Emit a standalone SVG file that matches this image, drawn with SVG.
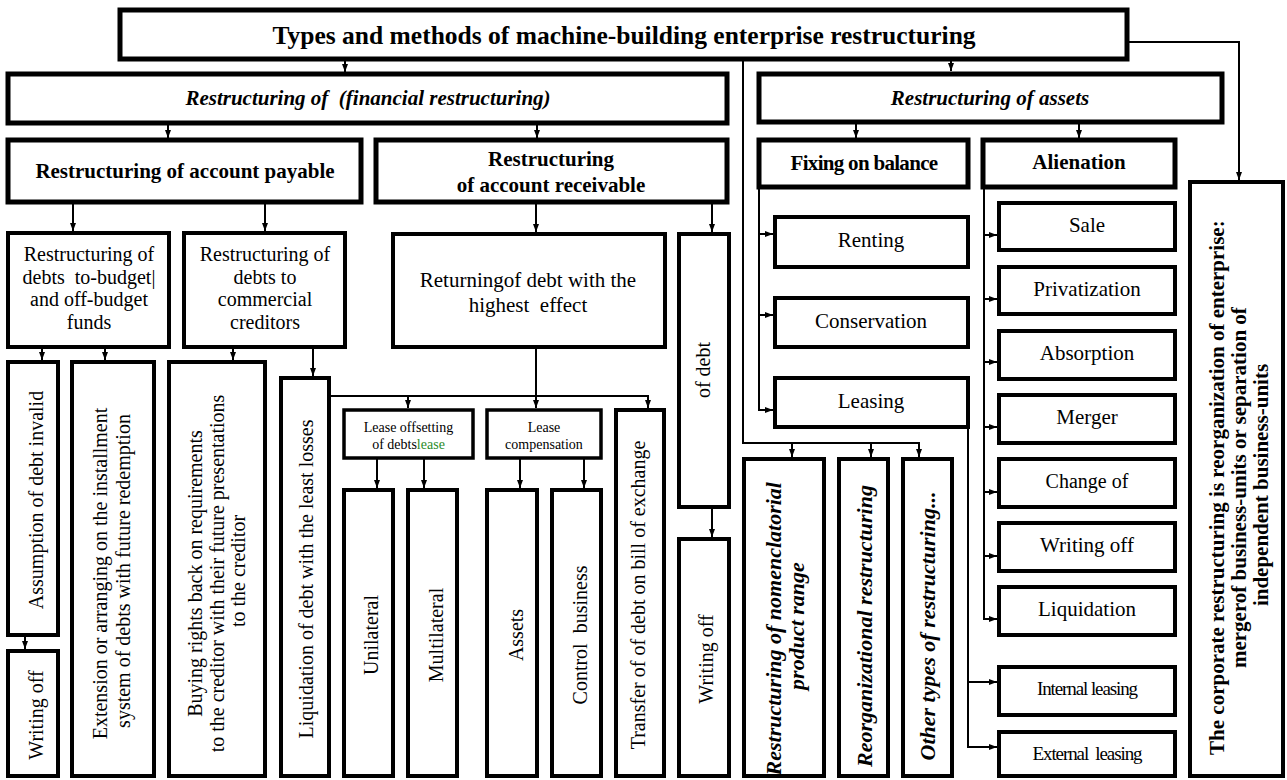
<svg xmlns="http://www.w3.org/2000/svg" width="1287" height="780" viewBox="0 0 1287 780" font-family="'Liberation Serif', 'Times New Roman', 'DejaVu Serif', serif">
  <style>
    text { font-family: 'Liberation Serif', 'Times New Roman', 'DejaVu Serif', serif; fill: #000; text-anchor: middle; }
    .box { fill: #fff; stroke: #000; stroke-width: 4; }
    .thick { stroke-width: 5; }
    .thin { stroke-width: 3.5; }
    .wire { fill: none; stroke: #000; stroke-width: 2; }
    .arr { marker-end: url(#ah); }
    .h24 { font-size: 25.5px; font-weight: bold; }
    .hb { font-size: 21px; font-weight: bold; }
    .hi { font-size: 21px; font-weight: bold; font-style: italic; }
    .vi { font-size: 22px; font-weight: bold; font-style: italic; }
    .r21 { font-size: 21px; }
    .r20 { font-size: 20px; }
    .r14 { font-size: 14px; }
    .cond { font-size: 19px; letter-spacing: -1.1px; }
    .green { fill: #2a8c2a; }
  </style>
  <defs>
    <marker id="ah" viewBox="0 0 8 6" refX="8" refY="3" markerWidth="8" markerHeight="6" markerUnits="userSpaceOnUse" orient="auto">
      <path d="M0,0 L8,3 L0,6 z" fill="#000"/>
    </marker>
  </defs>

  <!-- connectors -->
  <g id="connectors">
    <path class="wire arr" d="M345,59 V72"/>
    <path class="wire arr" d="M743,59 V443 H919 V457"/>
    <path class="wire arr" d="M792,443 V457"/>
    <path class="wire arr" d="M871,443 V457"/>
    <path class="wire arr" d="M951,59 V71"/>
    <path class="wire arr" d="M1127,42 H1239 V180"/>
    <path class="wire arr" d="M168,123 V138"/>
    <path class="wire arr" d="M537,123 V138"/>
    <path class="wire arr" d="M856,122 V138"/>
    <path class="wire arr" d="M1079,122 V138"/>
    <path class="wire arr" d="M73,202 V231"/>
    <path class="wire arr" d="M265,202 V231"/>
    <path class="wire arr" d="M536,202 V232"/>
    <path class="wire arr" d="M712,202 V232"/>
    <path class="wire arr" d="M42,347 V360"/>
    <path class="wire arr" d="M105,347 V360"/>
    <path class="wire arr" d="M233,347 V360"/>
    <path class="wire arr" d="M313,347 V376"/>
    <path class="wire arr" d="M25,635 V649"/>
    <path class="wire arr" d="M329,396 H648 V408"/>
    <path class="wire arr" d="M408,396 V408"/>
    <path class="wire arr" d="M536,347 V408"/>
    <path class="wire arr" d="M377,458 V488"/>
    <path class="wire arr" d="M424,458 V488"/>
    <path class="wire arr" d="M520,458 V488"/>
    <path class="wire arr" d="M584,458 V488"/>
    <path class="wire arr" d="M712,507 V537"/>
    <path class="wire arr" d="M759,187 V410 H773"/>
    <path class="wire arr" d="M759,234 H773"/>
    <path class="wire arr" d="M759,315 H773"/>
    <path class="wire arr" d="M984,187 V619 H997"/>
    <path class="wire arr" d="M984,235 H997"/>
    <path class="wire arr" d="M984,299 H997"/>
    <path class="wire arr" d="M984,362 H997"/>
    <path class="wire arr" d="M984,427 H997"/>
    <path class="wire arr" d="M984,492 H997"/>
    <path class="wire arr" d="M984,556 H997"/>
    <path class="wire arr" d="M968,427 V747 H997"/>
    <path class="wire arr" d="M968,682 H997"/>
  </g>

  <!-- top level -->
  <g id="n-title">
    <rect class="box thick" x="120" y="10" width="1007" height="49"/>
    <text class="h24" x="624" y="44">Types and methods of machine-building enterprise restructuring</text>
  </g>
  <g id="n-financial">
    <rect class="box thick" x="8" y="74" width="719" height="49"/>
    <text class="hi" x="368" y="105" xml:space="preserve">Restructuring of  (financial restructuring)</text>
  </g>
  <g id="n-assets">
    <rect class="box thick" x="759" y="74" width="463" height="48"/>
    <text class="hi" x="990" y="105">Restructuring of assets</text>
  </g>
  <g id="n-corporate">
    <rect class="box" x="1190" y="182" width="93" height="594"/>
    <text class="hb" transform="translate(1224,485) rotate(-90)">
      <tspan x="0" y="0">The corporate restructuring is reorganization of enterprise:</tspan>
      <tspan x="0" dy="22">mergerof business-units or separation of</tspan>
      <tspan x="0" dy="22">independent business-units</tspan>
    </text>
  </g>

  <!-- financial restructuring -->
  <g id="n-payable">
    <rect class="box thick" x="8" y="140" width="353" height="62"/>
    <text class="hb" x="185" y="178">Restructuring of account payable</text>
  </g>
  <g id="n-receivable">
    <rect class="box thick" x="376" y="140" width="351" height="62"/>
    <text class="hb" x="551" y="166">Restructuring</text>
    <text class="hb" x="551" y="192">of account receivable</text>
  </g>
  <g id="n-debts-budget">
    <rect class="box" x="8" y="233" width="161" height="114"/>
    <text class="r20" x="89" xml:space="preserve"><tspan x="89" y="261">Restructuring of</tspan><tspan x="89" y="283.5">debts  to-budget|</tspan><tspan x="89" y="306">and off-budget</tspan><tspan x="89" y="328.5">funds</tspan></text>
  </g>
  <g id="n-debts-commercial">
    <rect class="box" x="184" y="233" width="161" height="114"/>
    <text class="r20" x="265"><tspan x="265" y="261">Restructuring of</tspan><tspan x="265" y="283.5">debts to</tspan><tspan x="265" y="306">commercial</tspan><tspan x="265" y="328.5">creditors</tspan></text>
  </g>
  <g id="n-assumption">
    <rect class="box" x="8" y="362" width="50" height="273"/>
    <text class="r20" transform="translate(43,500) rotate(-90)">Assumption of debt invalid</text>
  </g>
  <g id="n-writing-off-a">
    <rect class="box" x="8" y="651" width="50" height="125"/>
    <text class="r20" transform="translate(43,715) rotate(-90)">Writing off</text>
  </g>
  <g id="n-extension">
    <rect class="box" x="72" y="362" width="82" height="414"/>
    <text class="r20" transform="translate(107,571) rotate(-90)">
      <tspan x="0" y="0">Extension or arranging on the installment</tspan>
      <tspan x="0" dy="23">system of debts with future redemption</tspan>
    </text>
  </g>
  <g id="n-buying">
    <rect class="box" x="169" y="362" width="96" height="414"/>
    <text class="r20" transform="translate(202,571) rotate(-90)">
      <tspan x="0" y="0">Buying rights back on requirements</tspan>
      <tspan x="0" dy="21.5">to the creditor with their future presentations</tspan>
      <tspan x="0" dy="21.5">to the creditor</tspan>
    </text>
  </g>
  <g id="n-liquidation-debt">
    <rect class="box" x="281" y="378" width="48" height="398"/>
    <text class="r20" transform="translate(313,579) rotate(-90)">Liquidation of debt with the least losses</text>
  </g>

  <!-- account receivable -->
  <g id="n-returning">
    <rect class="box" x="393" y="234" width="272" height="113"/>
    <text class="r21" x="528" y="287">Returningof debt with the</text>
    <text class="r21" x="528" y="312" xml:space="preserve">highest  effect</text>
  </g>
  <g id="n-of-debt">
    <rect class="box" x="679" y="234" width="50" height="273"/>
    <text class="r20" transform="translate(710,370) rotate(-90)">of debt</text>
  </g>
  <g id="n-writing-off-b">
    <rect class="box" x="679" y="539" width="50" height="237"/>
    <text class="r20" transform="translate(713,659) rotate(-90)">Writing off</text>
  </g>
  <g id="n-lease-offsetting">
    <rect class="box thin" x="344" y="410" width="129" height="48"/>
    <text class="r14" x="408.5" y="432">Lease offsetting</text>
    <text class="r14" x="408.5" y="449">of debts<tspan class="green">lease</tspan></text>
  </g>
  <g id="n-lease-compensation">
    <rect class="box thin" x="487" y="410" width="114" height="48"/>
    <text class="r14" x="544" y="432">Lease</text>
    <text class="r14" x="544" y="449">compensation</text>
  </g>
  <g id="n-transfer">
    <rect class="box" x="616" y="410" width="48" height="366"/>
    <text class="r20" transform="translate(645,595) rotate(-90)">Transfer of of debt on bill of exchange</text>
  </g>
  <g id="n-unilateral">
    <rect class="box" x="344" y="490" width="49" height="286"/>
    <text class="r20" transform="translate(378,635) rotate(-90)">Unilateral</text>
  </g>
  <g id="n-multilateral">
    <rect class="box" x="408" y="490" width="49" height="286"/>
    <text class="r20" transform="translate(443,635) rotate(-90)">Multilateral</text>
  </g>
  <g id="n-assets-comp">
    <rect class="box" x="487" y="490" width="50" height="286"/>
    <text class="r20" transform="translate(523,635) rotate(-90)">Assets</text>
  </g>
  <g id="n-control-business">
    <rect class="box" x="552" y="490" width="49" height="286"/>
    <text class="r20" transform="translate(587,635) rotate(-90)" xml:space="preserve">Control  business</text>
  </g>

  <!-- other kinds of restructuring -->
  <g id="n-nomenclature">
    <rect class="box" x="744" y="459" width="80" height="317"/>
    <text class="vi" transform="translate(781,626) rotate(-90)">
      <tspan x="0" y="0">Restructuring of nomenclatorial</tspan>
      <tspan x="0" dy="23">product range</tspan>
    </text>
  </g>
  <g id="n-reorganizational">
    <rect class="box" x="839" y="459" width="49" height="317"/>
    <text class="vi" transform="translate(872,626) rotate(-90)">Reorganizational restructuring</text>
  </g>
  <g id="n-other-types">
    <rect class="box" x="903" y="459" width="49" height="317"/>
    <text class="vi" transform="translate(935,626) rotate(-90)">Other types of restructuring...</text>
  </g>

  <!-- asset restructuring -->
  <g id="n-fixing">
    <rect class="box thick" x="759" y="140" width="209" height="47"/>
    <text class="hb" x="864" y="170" style="letter-spacing:-0.7px">Fixing on balance</text>
  </g>
  <g id="n-alienation">
    <rect class="box thick" x="983" y="140" width="192" height="47"/>
    <text class="hb" x="1079" y="169">Alienation</text>
  </g>
  <g id="n-renting">
    <rect class="box" x="775" y="217" width="193" height="50"/>
    <text class="r21" x="871" y="247">Renting</text>
  </g>
  <g id="n-conservation">
    <rect class="box" x="775" y="298" width="193" height="49"/>
    <text class="r21" x="871" y="328">Conservation</text>
  </g>
  <g id="n-leasing">
    <rect class="box" x="775" y="378" width="193" height="49"/>
    <text class="r21" x="871" y="408">Leasing</text>
  </g>
  <g id="n-internal-leasing">
    <rect class="box" x="999" y="667" width="176" height="48"/>
    <text class="cond" x="1087" y="695">Internal leasing</text>
  </g>
  <g id="n-external-leasing">
    <rect class="box" x="999" y="732" width="176" height="44"/>
    <text class="cond" x="1087" y="760" xml:space="preserve">External  leasing</text>
  </g>
  <g id="n-sale">
    <rect class="box" x="999" y="203" width="176" height="47"/>
    <text class="r21" x="1087" y="232">Sale</text>
  </g>
  <g id="n-privatization">
    <rect class="box" x="999" y="267" width="176" height="47"/>
    <text class="r21" x="1087" y="296">Privatization</text>
  </g>
  <g id="n-absorption">
    <rect class="box" x="999" y="331" width="176" height="48"/>
    <text class="r21" x="1087" y="360">Absorption</text>
  </g>
  <g id="n-merger">
    <rect class="box" x="999" y="395" width="176" height="48"/>
    <text class="r21" x="1087" y="424">Merger</text>
  </g>
  <g id="n-change">
    <rect class="box" x="999" y="459" width="176" height="48"/>
    <text class="r20" x="1087" y="488">Change of</text>
  </g>
  <g id="n-writing-off-c">
    <rect class="box" x="999" y="523" width="176" height="48"/>
    <text class="r21" x="1087" y="552">Writing off</text>
  </g>
  <g id="n-liquidation">
    <rect class="box" x="999" y="587" width="176" height="48"/>
    <text class="r21" x="1087" y="616">Liquidation</text>
  </g>
</svg>
